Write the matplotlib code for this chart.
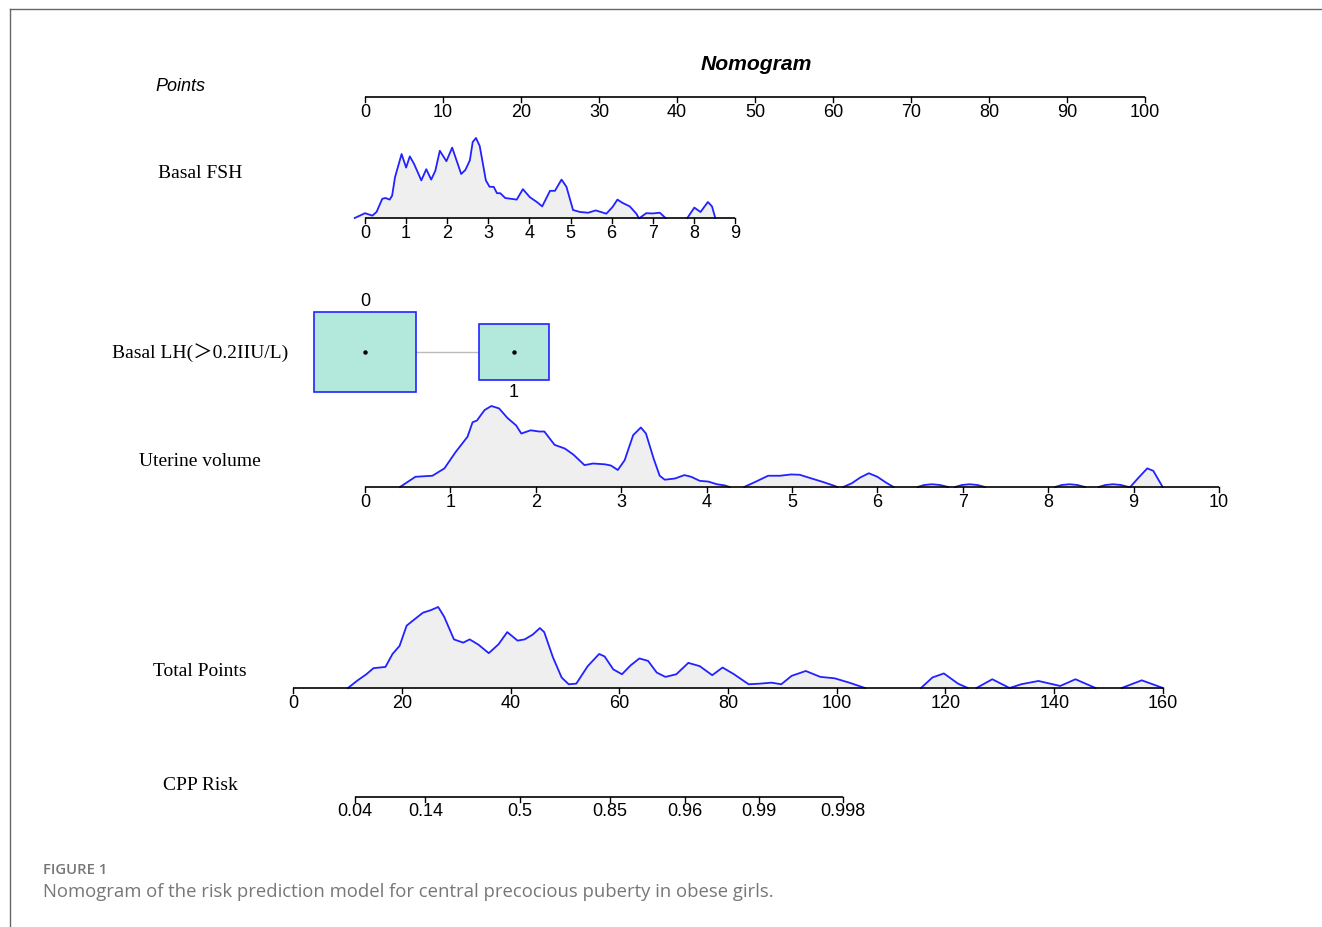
import numpy as np
import matplotlib.pyplot as plt
from matplotlib.lines import Line2D
from matplotlib.patches import Rectangle

## data
nan = np.nan

points_ticks = [0, 10, 20, 30, 40, 50, 60, 70, 80, 90, 100]

fsh_ticks = [0, 1, 2, 3, 4, 5, 6, 7, 8, 9]
# Basal FSH density (value, relative height)
fsh_x = [-0.25, 0.0, 0.18, 0.28, 0.42, 0.5, 0.6, 0.66, 0.73, 0.89, 1.0, 1.09, 1.19, 1.37,
         1.49, 1.61, 1.71, 1.82, 1.98, 2.12, 2.24, 2.34, 2.44, 2.55, 2.62, 2.70, 2.79, 2.94,
         3.03, 3.13, 3.21, 3.29, 3.41, 3.69, 3.84, 4.01, 4.18, 4.31, 4.5, 4.62, 4.78, 4.90,
         5.06, 5.23, 5.43, 5.61, 5.87, 6.02, 6.14, 6.26, 6.44, 6.60, 6.66, nan,
         6.68, 6.84, 7.0, 7.17, 7.31, nan,
         7.84, 8.01, 8.16, 8.34, 8.44, 8.52]
fsh_h = [0.0, 0.06, 0.03, 0.075, 0.24, 0.25, 0.23, 0.28, 0.51, 0.80, 0.63, 0.77, 0.68, 0.47,
         0.61, 0.48, 0.59, 0.84, 0.71, 0.88, 0.70, 0.55, 0.60, 0.72, 0.95, 1.0, 0.90, 0.47,
         0.39, 0.39, 0.31, 0.31, 0.25, 0.23, 0.36, 0.26, 0.20, 0.145, 0.34, 0.34, 0.48, 0.39,
         0.10, 0.075, 0.066, 0.095, 0.054, 0.137, 0.23, 0.19, 0.145, 0.054, 0.0, nan,
         0.0, 0.06, 0.057, 0.066, 0.0, nan,
         0.0, 0.13, 0.075, 0.20, 0.145, 0.0]

lh_levels = ['0', '1']
lh_props = [0.676, 0.324]

uv_ticks = [0, 1, 2, 3, 4, 5, 6, 7, 8, 9, 10]
uv_x = [0.41, 0.59, 0.79, 0.93, 1.06, 1.20, 1.26, 1.31, 1.40, 1.48, 1.57, 1.67, 1.77, 1.83,
        1.94, 2.04, 2.10, 2.22, 2.34, 2.44, 2.57, 2.67, 2.81, 2.88, 2.96, 3.04, 3.14, 3.23,
        3.29, 3.38, 3.45, 3.51, 3.63, 3.74, 3.82, 3.92, 4.02, 4.12, 4.21, 4.27, nan,
        4.44, 4.57, 4.72, 4.86, 4.99, 5.09, 5.23, 5.36, 5.50, 5.53, nan,
        5.60, 5.70, 5.80, 5.90, 6.00, 6.10, 6.19, nan,
        6.47, 6.55, 6.64, 6.73, 6.83, nan,
        6.91, 6.99, 7.08, 7.17, 7.26, nan,
        8.08, 8.16, 8.25, 8.34, 8.43, nan,
        8.59, 8.67, 8.76, 8.85, 8.94, nan,
        8.96, 9.06, 9.16, 9.23, 9.34]
uv_h = [0.0, 0.126, 0.139, 0.23, 0.43, 0.62, 0.80, 0.82, 0.95, 1.0, 0.97, 0.85, 0.76, 0.66,
        0.70, 0.685, 0.685, 0.52, 0.475, 0.40, 0.27, 0.29, 0.28, 0.265, 0.21, 0.33, 0.64, 0.735,
        0.66, 0.35, 0.14, 0.09, 0.105, 0.147, 0.126, 0.076, 0.067, 0.034, 0.02, 0.0, nan,
        0.0, 0.063, 0.139, 0.139, 0.155, 0.151, 0.105, 0.063, 0.013, 0.0, nan,
        0.0, 0.046, 0.118, 0.17, 0.126, 0.055, 0.0, nan,
        0.0, 0.025, 0.034, 0.025, 0.0, nan,
        0.0, 0.025, 0.034, 0.025, 0.0, nan,
        0.0, 0.025, 0.034, 0.025, 0.0, nan,
        0.0, 0.025, 0.034, 0.025, 0.0, nan,
        0.0, 0.118, 0.23, 0.20, 0.0]

total_ticks = [0, 20, 40, 60, 80, 100, 120, 140, 160]
tot_x = [10.1, 11.9, 13.5, 14.8, 17.0, 18.3, 19.6, 20.9, 22.2, 23.9, 25.3, 26.7, 27.8, 29.6,
         31.3, 32.5, 34.1, 36.0, 37.8, 39.4, 41.3, 42.6, 44.1, 45.4, 46.2, 47.8, 49.4, 50.7,
         52.1, 54.2, 56.3, 57.3, 58.9, 60.5, 62.1, 63.7, 65.3, 66.9, 68.5, 70.5, 72.7, 74.8,
         77.1, 79.0, 81.1, 83.8, 85.9, 88.0, 89.8, 91.7, 94.3, 97.0, 99.6, 102.3, 105.2, nan,
         115.5, 117.6, 119.7, 122.3, 124.1, nan,
         125.7, 128.6, 131.8, 133.9, 137.1, 141.1, 143.9, 147.6, nan,
         152.4, 156.1, 160.0]
tot_h = [0.0, 0.095, 0.17, 0.245, 0.26, 0.42, 0.52, 0.77, 0.84, 0.93, 0.96, 1.0, 0.88, 0.60,
         0.56, 0.60, 0.535, 0.43, 0.54, 0.69, 0.585, 0.60, 0.66, 0.74, 0.69, 0.38, 0.13, 0.046,
         0.054, 0.27, 0.42, 0.39, 0.23, 0.17, 0.28, 0.365, 0.335, 0.19, 0.137, 0.17, 0.31, 0.27,
         0.158, 0.253, 0.17, 0.046, 0.054, 0.066, 0.046, 0.15, 0.21, 0.137, 0.12, 0.066, 0.0, nan,
         0.0, 0.13, 0.18, 0.054, 0.0, nan,
         0.0, 0.108, 0.0, 0.046, 0.087, 0.025, 0.108, 0.0, nan,
         0.0, 0.095, 0.0]

risk_ticks = [0.04, 0.14, 0.5, 0.85, 0.96, 0.99, 0.998]
risk_labels = ['0.04', '0.14', '0.5', '0.85', '0.96', '0.99', '0.998']
# total points = a + b * logit(risk)
risk_a, risk_b = 41.7, 9.56

## scales: everything in "points" units on x
fsh_scale = 5.271      # points per FSH unit
lh_scale = 19.10       # points for LH level 1
uv_scale = 10.949      # points per uterine volume unit
tot_zero, tot_scale = -9.23, 0.6971

W, H = 1322, 927
px_per_pt = 7.8
x0_px = 365

blue = '#2222ff'
fill_gray = '#efefef'
sans = 'Liberation Sans'
serif = ['Liberation Serif', 'Noto Sans CJK SC', 'DejaVu Sans']

fig = plt.figure(figsize=(W / 100, H / 100), dpi=100)
ax = fig.add_axes([0, 0, 1, 1])
ax.set_xlim(-x0_px / px_per_pt, (W - x0_px) / px_per_pt)
ax.set_ylim(H, 0)
ax.axis('off')

# frame lines of the page
fig.add_artist(Line2D([10 / W, 1], [1 - 9 / H, 1 - 9 / H], color='#666666', lw=1))
fig.add_artist(Line2D([10 / W, 10 / W], [0, 1 - 9 / H], color='#666666', lw=1))


def draw_axis(y, xs, labels, tick_len=5, lab_off=15):
    ax.plot([xs[0], xs[-1]], [y, y], color='black', lw=1.2, zorder=5,
            solid_capstyle='butt')
    for xv, lab in zip(xs, labels):
        ax.plot([xv, xv], [y, y + tick_len], color='black', lw=1.0, zorder=5)
        ax.text(xv, y + lab_off, lab, ha='center', va='center', fontsize=13,
                family=sans, zorder=6)


def draw_density(y, xs, hs, hmax):
    xs = np.array(xs)
    ys = y - np.array(hs) * hmax
    ax.fill_between(xs, ys, y, color=fill_gray, lw=0, zorder=2)
    ax.plot(xs, ys, color=blue, lw=1.3, zorder=3)


def row_label(y, text):
    ax.text(-165 / px_per_pt, y + 2, text, ha='center', va='center', fontsize=14,
            family=serif)


# title and Points
ax.text((756 - x0_px) / px_per_pt, 64, 'Nomogram', ha='center', va='center',
        fontsize=15.2, fontweight='bold', fontstyle='italic', family=sans)
ax.text((155 - x0_px) / px_per_pt, 86, 'Points', ha='left', va='center',
        fontsize=13, fontstyle='italic', family=sans)
draw_axis(97, points_ticks, [str(t) for t in points_ticks])

# Basal FSH
row_label(171, 'Basal FSH')
draw_density(218, np.array(fsh_x) * fsh_scale, fsh_h, 80)
draw_axis(218, [t * fsh_scale for t in fsh_ticks], [str(t) for t in fsh_ticks])

# Basal LH boxes
row_label(351, 'Basal LH(＞0.2IIU/L)')
lh_y = 352
lh_pos = [0, lh_scale]
ax.plot(lh_pos, [lh_y, lh_y], color='#bbbbbb', lw=1, zorder=1)
for i, (xp, p) in enumerate(zip(lh_pos, lh_props)):
    bw = 123 * np.sqrt(p) / px_per_pt
    bh = 98.5 * np.sqrt(p)
    ax.add_patch(Rectangle((xp - bw / 2, lh_y - bh / 2), bw, bh, facecolor='#b3e9dd',
                           edgecolor='#2222ff', lw=1.2, zorder=3))
    ax.plot(xp, lh_y, 'o', color='black', ms=2.2, zorder=4)
    if i == 0:
        ax.text(xp, lh_y - bh / 2 - 10, lh_levels[i], ha='center', va='center',
                fontsize=13, family=sans)
    else:
        ax.text(xp, lh_y + bh / 2 + 12, lh_levels[i], ha='center', va='center',
                fontsize=13, family=sans)

# Uterine volume
row_label(459, 'Uterine volume')
draw_density(487, np.array(uv_x) * uv_scale, uv_h, 81)
draw_axis(487, [t * uv_scale for t in uv_ticks], [str(t) for t in uv_ticks])

# Total points
row_label(669, 'Total Points')
draw_density(688, tot_zero + np.array(tot_x) * tot_scale, tot_h, 81)
draw_axis(688, [tot_zero + t * tot_scale for t in total_ticks], [str(t) for t in total_ticks])

# CPP risk
row_label(783, 'CPP Risk')
risk = np.array(risk_ticks)
risk_tot = risk_a + risk_b * np.log(risk / (1 - risk))
draw_axis(797, tot_zero + risk_tot * tot_scale, risk_labels, lab_off=14)

# caption
fig.text(43 / W, 1 - 870 / H, 'FIGURE 1', ha='left', va='center', fontsize=10.7,
         color='#777777', family='Open Sans', fontweight='semibold')
fig.text(43 / W, 1 - 892 / H,
         'Nomogram of the risk prediction model for central precocious puberty in obese girls.',
         ha='left', va='center', fontsize=13.3, color='#777777', family='Open Sans')

fig.savefig('out.png', dpi=100)
